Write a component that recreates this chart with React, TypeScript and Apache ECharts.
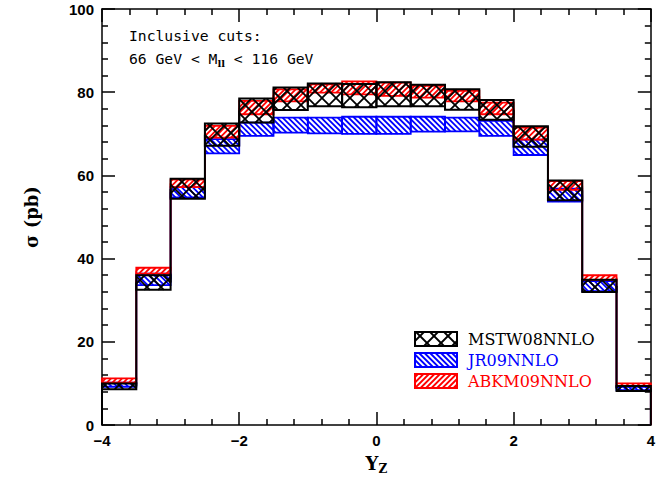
import React, { useEffect, useRef } from "react";
import * as echarts from "echarts";

// Bin edges in Y_Z
const binEdges = [-4, -3.5, -3, -2.5, -2, -1.5, -1, -0.5, 0, 0.5, 1, 1.5, 2, 2.5, 3, 3.5, 4];

// MSTW08NNLO band (pb)
const mstwLow = [8.6, 32.5, 54.4, 67.1, 72.7, 75.7, 76.6, 76.4, 76.6, 76.6, 75.8, 73.4, 66.9, 54.0, 32.0, 8.2];
const mstwHigh = [10.0, 36.0, 59.2, 72.5, 78.5, 81.1, 82.1, 82.0, 82.4, 81.8, 80.7, 78.1, 71.8, 58.8, 34.9, 9.4];

// JR09NNLO band (pb)
const jrLow = [9.2, 33.6, 54.7, 65.3, 69.5, 70.3, 70.1, 70.0, 70.0, 70.5, 70.6, 69.5, 64.9, 53.7, 32.2, 8.4];
const jrHigh = [10.2, 36.4, 57.2, 68.7, 72.7, 73.9, 73.9, 74.1, 74.1, 74.1, 73.9, 73.1, 68.6, 56.8, 34.6, 9.2];

// ABKM09NNLO band (pb)
const abkmLow = [10.2, 36.4, 57.2, 69.1, 74.7, 77.8, 79.9, 79.5, 79.1, 78.7, 77.8, 74.7, 68.6, 56.5, 34.9, 9.4];
const abkmHigh = [11.2, 37.8, 59.0, 71.9, 77.9, 80.7, 81.9, 82.6, 82.3, 81.5, 80.3, 77.5, 71.5, 58.6, 36.0, 10.0];

const seriesNames = ["MSTW08NNLO", "JR09NNLO", "ABKM09NNLO"];
const annotationLines = ["Inclusive cuts:", "66 GeV < M", "ll", " < 116 GeV"];

type Dir = 1 | -1;

function hatchLines(L: number, T: number, R: number, B: number, dirs: Dir[], spacing: number, color: string, lw: number) {
  const out: any[] = [];
  for (const s of dirs) {
    if (s === 1) {
      // y = x + c  ("\" direction on screen)
      const cmin = T - R, cmax = B - L;
      for (let k = Math.ceil(cmin / spacing); k * spacing <= cmax; k++) {
        const c = k * spacing;
        const xa = Math.max(L, T - c), xb = Math.min(R, B - c);
        if (xb - xa > 0.3) {
          out.push({ type: "line", silent: true, shape: { x1: xa, y1: xa + c, x2: xb, y2: xb + c }, style: { stroke: color, lineWidth: lw } });
        }
      }
    } else {
      // y = -x + c  ("/" direction on screen)
      const cmin = L + T, cmax = R + B;
      for (let k = Math.ceil(cmin / spacing); k * spacing <= cmax; k++) {
        const c = k * spacing;
        const xa = Math.max(L, c - B), xb = Math.min(R, c - T);
        if (xb - xa > 0.3) {
          out.push({ type: "line", silent: true, shape: { x1: xa, y1: c - xa, x2: xb, y2: c - xb }, style: { stroke: color, lineWidth: lw } });
        }
      }
    }
  }
  return out;
}

function makeRender(lo: number[], hi: number[], color: string, dirs: Dir[], spacing: number, lw: number, bw: number) {
  return (params: any, api: any) => {
    const x0 = api.value(0), x1 = api.value(1), l = api.value(2), h = api.value(3);
    const p0 = api.coord([x0, h]);
    const p1 = api.coord([x1, l]);
    const L = p0[0], T = p0[1], R = p1[0], B = p1[1];
    const children: any[] = hatchLines(L, T, R, B, dirs, spacing, color, lw);
    children.push({ type: "rect", shape: { x: L, y: T, width: R - L, height: B - T }, style: { fill: "none", stroke: color, lineWidth: bw } });
    const i = params.dataIndex;
    const mid = (l + h) / 2;
    const prevMid = i === 0 ? 0 : (lo[i - 1] + hi[i - 1]) / 2;
    const a = api.coord([x0, prevMid]);
    const b = api.coord([x0, mid]);
    children.push({ type: "line", shape: { x1: a[0], y1: a[1], x2: b[0], y2: b[1] }, style: { stroke: color, lineWidth: bw } });
    if (i === lo.length - 1) {
      const c = api.coord([x1, mid]);
      const d = api.coord([x1, 0]);
      children.push({ type: "line", shape: { x1: c[0], y1: c[1], x2: d[0], y2: d[1] }, style: { stroke: color, lineWidth: bw } });
    }
    return { type: "group", children };
  };
}

function bandData(lo: number[], hi: number[]) {
  return lo.map((v, i) => [binEdges[i], binEdges[i + 1], v, hi[i]]);
}

const tickFont = "'Liberation Sans', Arial, sans-serif";
const serifFont = "'DejaVu Serif', serif";
const monoFont = "'DejaVu Sans Mono', monospace";

function axisCommon(showLabel: boolean, fmt?: (v: number) => string) {
  return {
    axisLine: { show: true, onZero: false, lineStyle: { color: "#000", width: 1.5 } },
    axisTick: { show: true, inside: true, length: 13, lineStyle: { color: "#000", width: 1.5 } },
    minorTick: { show: true, splitNumber: 5, length: 6, lineStyle: { color: "#000", width: 1.5 } },
    splitLine: { show: false },
    minorSplitLine: { show: false },
    axisLabel: {
      show: showLabel,
      color: "#000",
      fontFamily: tickFont,
      fontWeight: "bold",
      fontSize: 15,
      margin: 8,
      formatter: fmt,
    },
  };
}

const fmtNum = (v: number) => (v < 0 ? "\u2212" + String(-v) : String(v));

export default function App() {
  const ref = useRef<HTMLDivElement>(null);
  useEffect(() => {
    if (!ref.current) return;
    const chart = echarts.init(ref.current, null, { renderer: "svg" });

    const legendX = 415, legendW = 42;
    const legendRows = [
      { name: seriesNames[0], color: "#000000", dirs: [1, -1] as Dir[], spacing: 14, lw: 1.8, y: 332 },
      { name: seriesNames[1], color: "#0000ff", dirs: [1] as Dir[], spacing: 5.5, lw: 1.8, y: 353 },
      { name: seriesNames[2], color: "#ff0000", dirs: [-1] as Dir[], spacing: 5.5, lw: 1.8, y: 374 },
    ];
    const legendGraphics: any[] = [];
    legendRows.forEach((r) => {
      const h = 14;
      legendGraphics.push(...hatchLines(legendX, r.y, legendX + legendW, r.y + h, r.dirs, r.spacing, r.color, r.lw));
      legendGraphics.push({ type: "rect", silent: true, shape: { x: legendX, y: r.y, width: legendW, height: h }, style: { fill: "none", stroke: r.color, lineWidth: 2 } });
      legendGraphics.push({
        type: "text",
        silent: true,
        x: 468,
        y: r.y + h / 2,
        style: { text: r.name, fill: r.color, font: `16px ${serifFont}`, verticalAlign: "middle", align: "left" },
      });
    });

    const option: any = {
      animation: false,
      backgroundColor: "#ffffff",
      grid: { left: 102, right: 7, top: 9, bottom: 58, containLabel: false },
      xAxis: [
        {
          type: "value",
          min: -4,
          max: 4,
          interval: 2,
          position: "bottom",
          ...axisCommon(true, fmtNum),
          name: "{y|Y}{z|Z}",
          nameLocation: "middle",
          nameGap: 26,
          nameTextStyle: {
            rich: {
              y: { fontFamily: serifFont, fontWeight: "bold", fontSize: 18, color: "#000", lineHeight: 24 },
              z: { fontFamily: serifFont, fontWeight: "bold", fontSize: 12, color: "#000", lineHeight: 8, verticalAlign: "bottom" },
            },
          },
        },
        { type: "value", min: -4, max: 4, interval: 2, position: "top", ...axisCommon(false) },
      ],
      yAxis: [
        {
          type: "value",
          min: 0,
          max: 100,
          interval: 20,
          position: "left",
          ...axisCommon(true, fmtNum),
          name: "\u03C3 (pb)",
          nameLocation: "middle",
          nameGap: 62,
          nameTextStyle: { fontFamily: serifFont, fontWeight: "bold", fontSize: 18, color: "#000" },
        },
        { type: "value", min: 0, max: 100, interval: 20, position: "right", ...axisCommon(false) },
      ],
      series: [
        {
          name: seriesNames[1],
          type: "custom",
          renderItem: makeRender(jrLow, jrHigh, "#0000ff", [1], 5.5, 1.8, 1.8),
          data: bandData(jrLow, jrHigh),
          encode: { x: [0, 1], y: [2, 3] },
          z: 2,
        },
        {
          name: seriesNames[2],
          type: "custom",
          renderItem: makeRender(abkmLow, abkmHigh, "#ff0000", [-1], 5.5, 1.8, 1.8),
          data: bandData(abkmLow, abkmHigh),
          encode: { x: [0, 1], y: [2, 3] },
          z: 3,
        },
        {
          name: seriesNames[0],
          type: "custom",
          renderItem: makeRender(mstwLow, mstwHigh, "#000000", [1, -1], 14, 1.8, 2),
          data: bandData(mstwLow, mstwHigh),
          encode: { x: [0, 1], y: [2, 3] },
          z: 4,
        },
      ],
      graphic: [
        {
          type: "text",
          silent: true,
          x: 129,
          y: 35,
          style: { text: annotationLines[0], fill: "#000", font: `14.7px ${monoFont}`, verticalAlign: "middle" },
        },
        {
          type: "text",
          silent: true,
          x: 129,
          y: 58,
          style: {
            text: `{a|${annotationLines[1]}}{s|${annotationLines[2]}}{a|${annotationLines[3]}}`,
            verticalAlign: "middle",
            rich: {
              a: { fontFamily: monoFont, fontSize: 14.7, fill: "#000", lineHeight: 20 },
              s: { fontFamily: serifFont, fontSize: 10, fontWeight: "bold", fill: "#000", lineHeight: 8, verticalAlign: "bottom" },
            },
          },
        },
        ...legendGraphics,
      ],
    };
    chart.setOption(option);
    return () => chart.dispose();
  }, []);
  return <div ref={ref} style={{ position: "absolute", left: 0, top: 0, width: 658, height: 483, background: "#fff" }} />;
}
